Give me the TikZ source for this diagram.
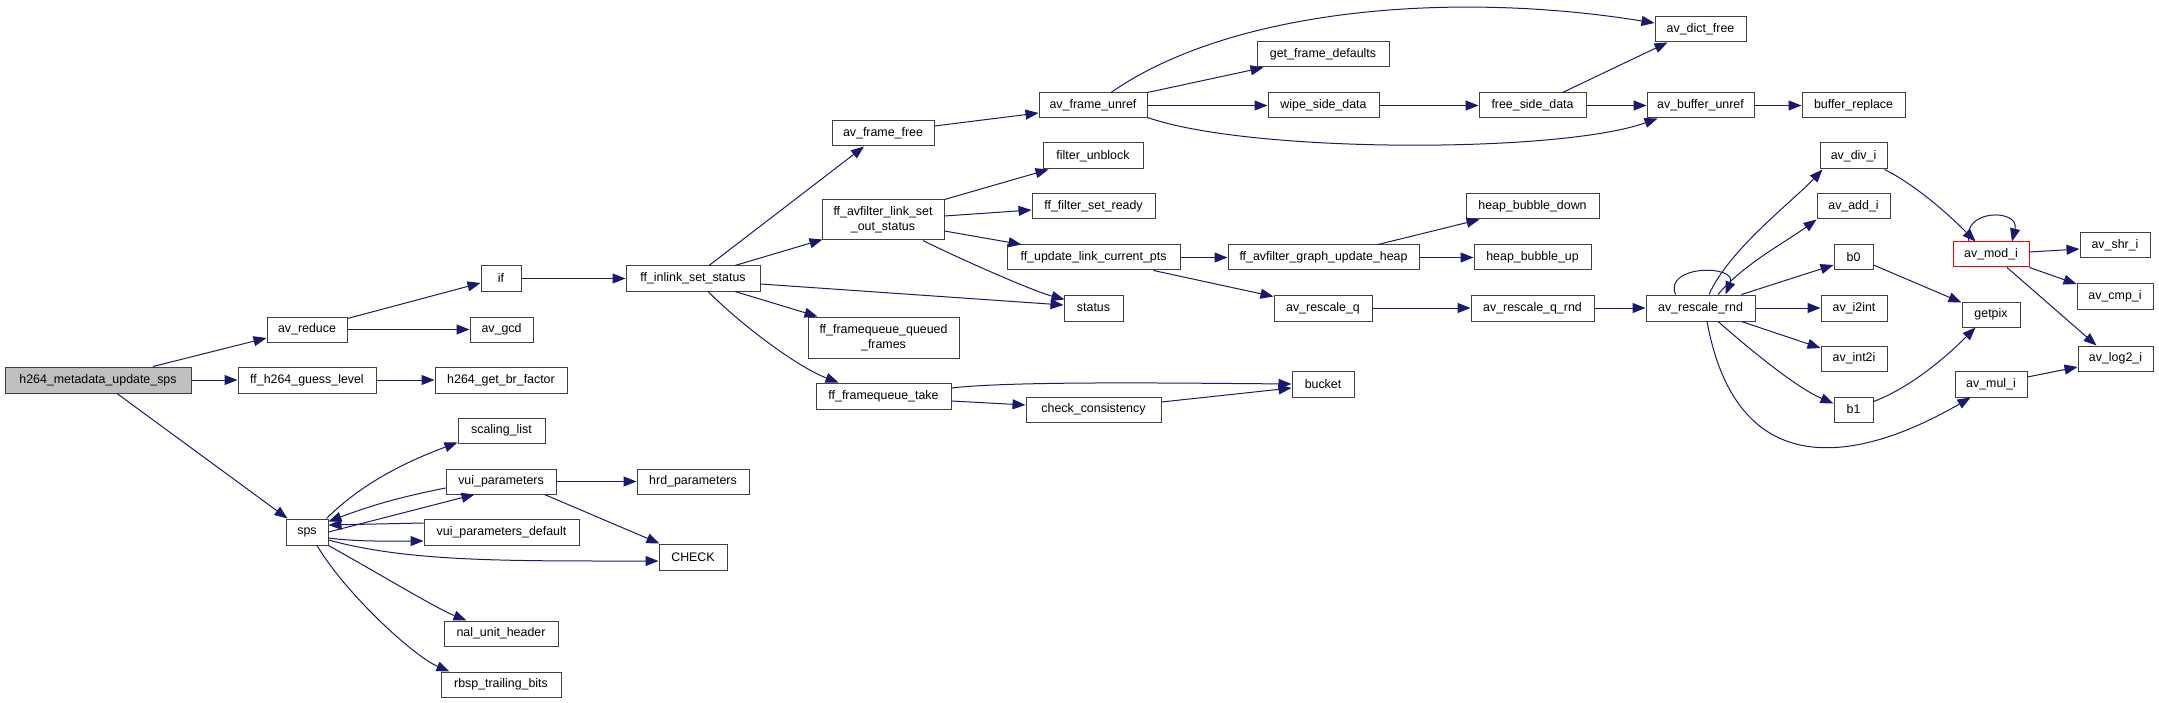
\documentclass[tikz,border=0pt]{standalone}
\usepackage{fontspec}
\setmainfont{Liberation Sans}
\usetikzlibrary{arrows.meta}
\definecolor{edgec}{HTML}{191970}
\definecolor{boxc}{HTML}{404040}
\definecolor{rootc}{HTML}{BFBFBF}
\newcommand{\mkbox}[7][]{\node[box,#1,minimum width={(#5-#3)*1pt},minimum height={(#6-#4)*1pt}] (#2) at ({(#3+#5)/2},{(#4+#6)/2}) {#7};}
\begin{document}
\begin{tikzpicture}[x=1pt,y=-1pt,
  box/.style={draw=boxc, line width=1pt, fill=white, inner sep=0pt, font=\fontsize{12.4}{15}\selectfont, align=center, text=black},
  call/.style={draw=edgec, line width=1pt, -{Triangle[length=13pt,width=10pt]}}]
\fill[white] (0,0) rectangle (2159,703);
\useasboundingbox (0,0) rectangle (2159,703);
% nodes
\mkbox[fill=rootc]{root}{5}{367}{191}{393}{h264\_metadata\_update\_sps}
\mkbox{avr}{267}{317}{347}{342}{av\_reduce}
\mkbox{guess}{238}{367}{376}{393}{ff\_h264\_guess\_level}
\mkbox{sps}{286}{519}{328}{545}{sps}
\mkbox{if}{481}{266}{521}{291}{if}
\mkbox{gcd}{470}{317}{533}{342}{av\_gcd}
\mkbox{brf}{435}{367}{567}{393}{h264\_get\_br\_factor}
\mkbox{scl}{458}{418}{545}{443}{scaling\_list}
\mkbox{vui}{446}{469}{556}{494}{vui\_parameters}
\mkbox{vd}{424}{519}{579}{545}{vui\_parameters\_default}
\mkbox{nal}{444}{621}{558}{646}{nal\_unit\_header}
\mkbox{rbsp}{441}{672}{561}{697}{rbsp\_trailing\_bits}
\mkbox{hrd}{637}{469}{749}{494}{hrd\_parameters}
\mkbox{chk}{659}{544}{727}{570}{CHECK}
\mkbox{inl}{626}{266}{760}{291}{ff\_inlink\_set\_status}
\mkbox{aff}{832}{121}{934}{146}{av\_frame\_free}
\mkbox{lsos}{822}{200}{944}{240}{ff\_avfilter\_link\_set\\\_out\_status}
\mkbox{qf}{808}{317}{959}{358}{ff\_framequeue\_queued\\\_frames}
\mkbox{take}{816}{383}{951}{409}{ff\_framequeue\_take}
\mkbox{afu}{1039}{93}{1147}{118}{av\_frame\_unref}
\mkbox{fub}{1043}{143}{1143}{169}{filter\_unblock}
\mkbox{fsr}{1032}{194}{1155}{219}{ff\_filter\_set\_ready}
\mkbox{ulcp}{1007}{245}{1180}{270}{ff\_update\_link\_current\_pts}
\mkbox{st}{1064}{295}{1123}{321}{status}
\mkbox{cc}{1026}{397}{1161}{422}{check\_consistency}
\mkbox{gfd}{1257}{42}{1389}{67}{get\_frame\_defaults}
\mkbox{wsd}{1268}{93}{1379}{118}{wipe\_side\_data}
\mkbox{guh}{1228}{245}{1419}{270}{ff\_avfilter\_graph\_update\_heap}
\mkbox{arq}{1274}{295}{1372}{321}{av\_rescale\_q}
\mkbox{bkt}{1292}{371}{1354}{397}{bucket}
\mkbox{fsd}{1479}{93}{1586}{118}{free\_side\_data}
\mkbox{hbd}{1466}{194}{1599}{219}{heap\_bubble\_down}
\mkbox{hbu}{1474}{245}{1591}{270}{heap\_bubble\_up}
\mkbox{arqr}{1471}{295}{1594}{321}{av\_rescale\_q\_rnd}
\mkbox{adf}{1655}{17}{1746}{42}{av\_dict\_free}
\mkbox{abu}{1647}{93}{1754}{118}{av\_buffer\_unref}
\mkbox{arr}{1646}{295}{1755}{321}{av\_rescale\_rnd}
\mkbox{brp}{1802}{93}{1905}{118}{buffer\_replace}
\mkbox{adi}{1820}{143}{1887}{169}{av\_div\_i}
\mkbox{aai}{1817}{194}{1890}{219}{av\_add\_i}
\mkbox{b0}{1834}{245}{1873}{270}{b0}
\mkbox{i2i}{1821}{295}{1887}{321}{av\_i2int}
\mkbox{i2}{1821}{346}{1887}{371}{av\_int2i}
\mkbox{b1}{1834}{397}{1873}{422}{b1}
\mkbox[draw=red]{mod}{1953}{242}{2029}{267}{av\_mod\_i}
\mkbox{gp}{1962}{302}{2020}{327}{getpix}
\mkbox{mul}{1955}{371}{2027}{397}{av\_mul\_i}
\mkbox{shr}{2080}{233}{2150}{258}{av\_shr\_i}
\mkbox{cmp}{2077}{283}{2153}{309}{av\_cmp\_i}
\mkbox{lg2}{2078}{346}{2153}{371}{av\_log2\_i}
% edges from root
\draw[call] ([shift={(55,0)}]root.north) -- ([shift={(0,8.5)}]avr.west);
\draw[call] (root.east) -- (guess.west);
\draw[call] ([shift={(19,0)}]root.south) -- ([shift={(2,0)}]sps.north west);
\draw[call] ([shift={(0,2)}]avr.north east) -- ([shift={(0,4.5)}]if.west);
\draw[call] (avr.east) -- (gcd.west);
\draw[call] (guess.east) -- (brf.west);
\draw[call] (if.east) -- (inl.west);
% sps
\draw[call] ([shift={(-2,0)}]sps.north east) .. controls +(40,-40) and +(-40,15) .. ([shift={(0,-1)}]scl.south west);
\draw[call] (sps.east) -- ([shift={(29,0)}]vui.south west);
\draw[call] ([shift={(0,6.5)}]vui.west) .. controls +(-50,10) and +(40,-15) .. ([shift={(0,3)}]sps.north east);
\draw[call] ([shift={(0,-9)}]vd.west) -- ([shift={(0,-7)}]sps.east);
\draw[call] ([shift={(0,6)}]sps.east) .. controls +(30,4) and +(-30,0) .. ([shift={(0,9)}]vd.west);
\draw[call] ([shift={(0,8)}]sps.east) .. controls +(80,22) and +(-150,0) .. ([shift={(0,4)}]chk.west);
\draw[call] ([shift={(-12,0)}]vui.south east) -- ([shift={(1,0)}]chk.north west);
\draw[call] (vui.east) -- (hrd.west);
\draw[call] (sps.south east) .. controls +(45,25) and +(-30,-12) .. ([shift={(23,0)}]nal.north west);
\draw[call] ([shift={(10,0)}]sps.south) .. controls +(30,50) and +(-35,-15) .. ([shift={(9,0)}]rbsp.north west);
% inlink
\draw[call] ([shift={(16,0)}]inl.north) -- ([shift={(-19,0)}]aff.south);
\draw[call] ([shift={(42,0)}]inl.north) -- ([shift={(1,-1)}]lsos.south west);
\draw[call] ([shift={(0,5.5)}]inl.east) -- ([shift={(0,-3)}]st.west);
\draw[call] ([shift={(42,0)}]inl.south) -- ([shift={(10,0)}]qf.north west);
\draw[call] ([shift={(15,0)}]inl.south) .. controls +(35,35) and +(-40,-15) .. ([shift={(23,0)}]take.north west);
\draw[call] ([shift={(0,-7.5)}]aff.east) -- ([shift={(0,7.5)}]afu.west);
\draw[call] (lsos.north east) -- ([shift={(6,0)}]fub.south west);
\draw[call] ([shift={(0,-4)}]lsos.east) -- ([shift={(0,3.5)}]fsr.west);
\draw[call] ([shift={(0,11)}]lsos.east) -- ([shift={(15,0)}]ulcp.north west);
\draw[call] ([shift={(40,0)}]lsos.south) .. controls +(40,20) and +(-30,-8) .. ([shift={(1,5)}]st.north west);
\draw[call] ([shift={(0,-8)}]take.east) .. controls +(60,-7) and +(-120,-1) .. (bkt.west);
\draw[call] ([shift={(0,5)}]take.east) -- ([shift={(0,-4.5)}]cc.west);
\draw[call] ([shift={(0,-7.5)}]cc.east) -- ([shift={(0,4)}]bkt.west);
% av_frame_unref
\draw[call] ([shift={(18,0)}]afu.north) .. controls +(119,-83) and +(-205,-33) .. ([shift={(0,-6.5)}]adf.west);
\draw[call] (afu.north east) -- ([shift={(7,0)}]gfd.south west);
\draw[call] (afu.east) -- (wsd.west);
\draw[call] ([shift={(0,-1)}]afu.south east) .. controls +(103,36) and +(-98,35) .. ([shift={(11,0)}]abu.south west);
\draw[call] (wsd.east) -- (fsd.west);
\draw[call] ([shift={(30,0)}]fsd.north) -- ([shift={(13,0)}]adf.south west);
\draw[call] (fsd.east) -- (abu.west);
\draw[call] (abu.east) -- (brp.west);
% pts / heap
\draw[call] (ulcp.east) -- (guh.west);
\draw[call] ([shift={(-27,0)}]ulcp.south east) -- ([shift={(0,2)}]arq.north west);
\draw[call] ([shift={(54.5,0)}]guh.north) -- ([shift={(14,0)}]hbd.south west);
\draw[call] (guh.east) -- (hbu.west);
\draw[call] (arq.east) -- (arqr.west);
\draw[call] (arqr.east) -- (arr.west);
% av_rescale_rnd
\draw[call] ([shift={(-25,0)}]arr.north) .. controls +(-12,-30) and +(12,-30) .. ([shift={(25,0)}]arr.north);
\draw[call] ([shift={(8.5,0)}]arr.north) .. controls +(20,-45) and +(-30,32) .. ([shift={(3,0)}]adi.south west);
\draw[call] ([shift={(17.5,0)}]arr.north) .. controls +(25,-30) and +(-30,22) .. (aai.south west);
\draw[call] ([shift={(-14,0)}]arr.north east) -- ([shift={(0,7.5)}]b0.west);
\draw[call] (arr.east) -- (i2i.west);
\draw[call] ([shift={(-14,0)}]arr.south east) -- ([shift={(0,2.5)}]i2.north west);
\draw[call] ([shift={(17.5,0)}]arr.south) .. controls +(40,35) and +(-35,-15) .. ([shift={(0,-6)}]b1.west);
\draw[call] ([shift={(6.5,0)}]arr.south) .. controls +(33,179) and +(-91,53) .. ([shift={(16,0)}]mul.south west);
% right part
\draw[call] ([shift={(-3,0)}]adi.south east) .. controls +(30,15) and +(-30,-30) .. ([shift={(23,0)}]mod.north west);
\draw[call] ([shift={(0,7.5)}]b0.east) -- ([shift={(0,1)}]gp.north west);
\draw[call] ([shift={(0,-8)}]b1.east) .. controls +(40,-15) and +(-25,25) .. ([shift={(14,0)}]gp.south west);
\draw[call] ([shift={(-22,0)}]mod.north) .. controls +(-8,-33) and +(8,-33) .. ([shift={(21,0)}]mod.north);
\draw[call] ([shift={(0,-2.5)}]mod.east) -- ([shift={(0,3.5)}]shr.west);
\draw[call] (mod.south east) -- ([shift={(0,-12)}]cmp.west);
\draw[call] ([shift={(16,0)}]mod.south) -- ([shift={(19,0)}]lg2.north west);
\draw[call] ([shift={(0,-7)}]mul.east) -- ([shift={(0,8.5)}]lg2.west);
\end{tikzpicture}
\end{document}
